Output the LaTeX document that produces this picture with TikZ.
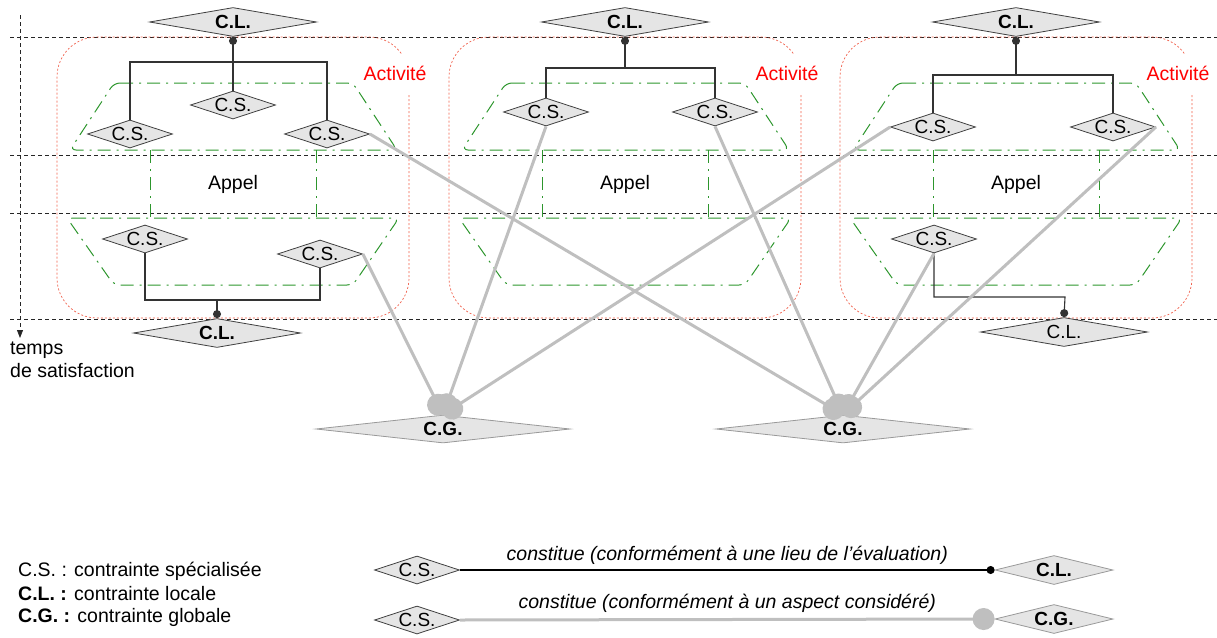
\documentclass[tikz,border=0pt]{standalone}
\usepackage{fontspec}
\setmainfont{Liberation Sans}
\usetikzlibrary{arrows.meta, shapes.geometric}

\definecolor{actred}{RGB}{240,95,75}
\definecolor{zonegreen}{RGB}{45,150,45}

\begin{document}
\begin{tikzpicture}[
    x=1pt, y=-1pt,
    >=Latex,
    txt/.style={font=\fontsize{19.5}{23}\selectfont, inner sep=0pt},
    csbox/.style={diamond, aspect=3, draw=black!75, fill=black!10, line width=0.8pt, inner sep=0pt, minimum width=85pt, minimum height=28pt, font=\fontsize{19}{21}\selectfont},
    clbox/.style={csbox, aspect=5.8, minimum width=167pt, minimum height=29pt, font=\fontsize{19}{21}\selectfont\bfseries},
    cgbox/.style={clbox, draw=black!40, aspect=9, minimum width=254pt, minimum height=28pt},
    keybox/.style={clbox, draw=black!40, aspect=4, minimum width=118pt},
    guide/.style={black!85, line width=0.8pt, dash pattern=on 4pt off 3pt},
    act/.style={actred, line width=0.7pt, dash pattern=on 2pt off 2pt},
    zone/.style={zonegreen, line width=1pt, dash pattern=on 13pt off 6pt on 2pt off 6pt},
    tree/.style={black!80, line width=1.1pt},
    loc/.style={tree, -{Circle[length=8pt]}},
    glob/.style={black!25, line width=3pt, -{Circle[length=22pt]}},
    lab/.style={txt, above=5pt, text=black, font=\fontsize{19.5}{23}\selectfont\itshape}
  ]
  \useasboundingbox (0,0) rectangle (1217,637);

  % time axis
  \foreach \y in {37,155,213,319}
    \draw[guide] (10,\y) -- (1217,\y);
  \coordinate (t0) at (20,15);
  \coordinate (t1) at (20,338);
  \draw[guide, -{Triangle[length=8pt,width=6pt]}] (t0) -- (t1);
  \node[txt, anchor=north west, align=left] (tps) at (10,342) {temps\\de satisfaction};

  % activities and calls
  \foreach \c in {233,625,1016} {
    \draw[act] ({\c+176},95) -- ({\c+176},278) arc[start angle=0, end angle=90, radius=40]
      -- ({\c-136},318) arc[start angle=90, end angle=180, radius=40]
      -- ({\c-176},77) arc[start angle=180, end angle=270, radius=40]
      -- ({\c+136},37) arc[start angle=270, end angle=325, radius=40];
    \draw[zone, rounded corners=6] ({\c-119},83) -- ({\c+120},83) -- ({\c+164},150) -- ({\c-163},150) -- cycle;
    \draw[zone] ({\c-83},150) -- ({\c-83},218) ({\c+83},150) -- ({\c+83},218);
    \draw[zone, rounded corners=6] ({\c-166},218) -- ({\c+166},218) -- ({\c+120},285) -- ({\c-119},285) -- cycle;
    \node[txt] (ap\c) at (\c,184) {Appel};
    \node[txt, red] (ac\c) at ({\c+162},73) {Activité};
  }

  % constraints
  \node[clbox] (cl1) at (233,22) {C.L.};
  \node[csbox] (cs1a) at (130,134) {C.S.};
  \node[csbox] (cs1b) at (233,105) {C.S.};
  \node[csbox] (cs1c) at (327,134) {C.S.};
  \node[csbox] (cs1d) at (145,239) {C.S.};
  \node[csbox] (cs1e) at (320,254) {C.S.};
  \node[clbox] (cl1b) at (217,333) {C.L.};
  \coordinate (j1) at (233,62);
  \coordinate (j1b) at (217,300);

  \node[clbox] (cl2) at (625,22) {C.L.};
  \node[csbox] (cs2a) at (546,112) {C.S.};
  \node[csbox] (cs2b) at (715,112) {C.S.};
  \coordinate (j2) at (625,68);

  \node[clbox] (cl3) at (1016,22) {C.L.};
  \node[csbox] (cs3a) at (933,127) {C.S.};
  \node[csbox] (cs3b) at (1113,127) {C.S.};
  \node[csbox] (cs3c) at (934,239) {C.S.};
  \node[clbox, font=\fontsize{19}{21}\selectfont] (cl3b) at (1064,332) {C.L.};
  \coordinate (j3) at (1016,75);
  \coordinate (j3b) at (1065,297);

  \node[cgbox] (cg1) at (443,429) {C.G.};
  \node[cgbox] (cg2) at (843,429) {C.G.};

  \draw[tree] (cs1a.north) |- (j1) -| (cs1c.north);
  \draw[loc] (cs1b.north) -- (cl1.south);
  \draw[tree] (cs1d.south) |- (j1b) -| (cs1e.south);
  \draw[loc] (j1b) -- (cl1b.north);
  \draw[tree] (cs2a.north) |- (j2) -| (cs2b.north);
  \draw[loc] (j2) -- (cl2.south);
  \draw[tree] (cs3a.north) |- (j3) -| (cs3b.north);
  \draw[loc] (j3) -- (cl3.south);
  \draw[loc] (cs3c.south) |- (j3b) -- (cl3b.north);

  \draw[glob] (cs1e.east) -- (cg1.north);
  \draw[glob] (cs2a.south) -- (cg1.north);
  \draw[glob] (cs3a.west) -- (cg1.north);
  \draw[glob] (cs1c.east) -- (cg2.north);
  \draw[glob] (cs2b.south) -- (cg2.north);
  \draw[glob] (cs3b.east) -- (cg2.north);
  \draw[glob] (cs3c.south) -- (cg2.north);

  % legend
  \node[txt, anchor=west] (k1) at (18,571) {C.S. : contrainte spécialisée};
  \node[txt, anchor=west] (k2) at (18,594) {\textbf{C.L. :} contrainte locale};
  \node[txt, anchor=west] (k3) at (18,617) {\textbf{C.G. :} contrainte globale};

  \node[csbox] (lcs1) at (417,570) {C.S.};
  \node[keybox] (lcl) at (1054,570) {C.L.};
  \node[csbox] (lcs2) at (417,620) {C.S.};
  \node[keybox] (lcg) at (1054,619) {C.G.};
  \draw[loc, black] (lcs1.east) -- node[lab] {constitue (conformément à une lieu de l'évaluation)} (lcl.west);
  \draw[glob] (lcs2.east) -- node[lab] {constitue (conformément à un aspect considéré)} (lcg.west);
\end{tikzpicture}
\end{document}
